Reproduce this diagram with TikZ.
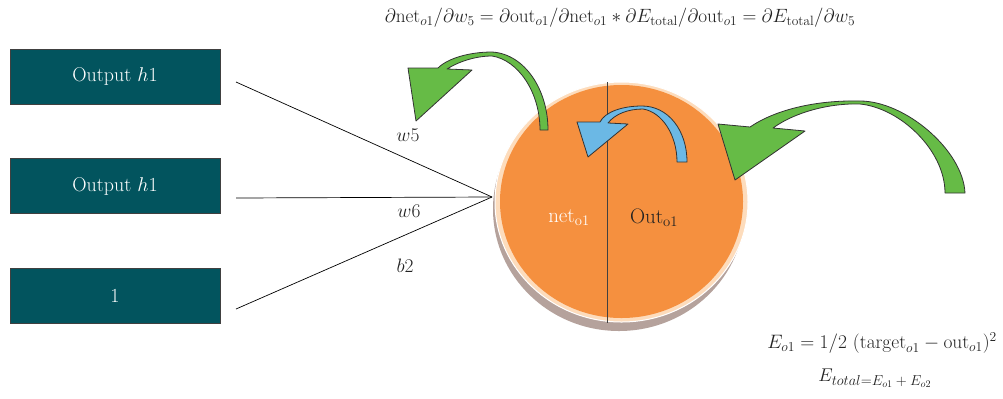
\RequirePackage{fix-cm}
\documentclass[tikz,border=0pt]{standalone}
\usepackage{amsmath}
\definecolor{boxteal}{HTML}{02545E}
\definecolor{orng}{HTML}{F5903F}
\definecolor{peach}{HTML}{FDDCBC}
\definecolor{shadowc}{HTML}{B5A29C}
\definecolor{grn}{HTML}{66BB46}
\definecolor{blu}{HTML}{6BB8E5}
\definecolor{darktxt}{HTML}{222222}
\begin{document}
\begin{tikzpicture}[x=1bp,y=-1bp,
  inbox/.style={draw=black!75, line width=0.8bp, fill=boxteal, minimum width=210bp, minimum height=55bp, inner sep=0pt, text=white, font=\fontsize{20}{23}\selectfont},
  wire/.style={line width=0.7bp, draw=black},
  lbl/.style={font=\fontsize{19.5}{22}\selectfont, text=darktxt, inner sep=0pt},
  fml/.style={font=\fontsize{19.3}{22}\selectfont, text=darktxt, inner sep=0pt},
  blockarrow/.style={line width=0.8bp, draw=black!80, line join=round}]
\useasboundingbox (0,0) rectangle (1003,398);

% input boxes
\node[inbox] (b1) at (115,76.5) {Output $h1$};
\node[inbox] (b2) at (115,186) {Output $h1$};
\node[inbox] (b3) at (115,296) {1};

% neuron
\fill[shadowc] (619,209) ellipse [x radius=126bp, y radius=122bp];
\filldraw[fill=peach, draw=white, line width=1bp] (621.5,202) ellipse [x radius=126.5bp, y radius=120bp];
\fill[orng] (621.5,201.5) ellipse [x radius=121.5bp, y radius=116.5bp];
\coordinate (vt) at (607,82);
\coordinate (vb) at (607,323);
\draw[line width=1bp, draw=black!75] (vt) -- (vb);

\node[lbl, text=white, font=\fontsize{21}{24}\selectfont] (net) at (569,218) {net$_{\text{o1}}$};
\node[lbl, font=\fontsize{21}{24}\selectfont] (out) at (654,218) {Out$_{\text{o1}}$};

% wires
\coordinate (conv) at (492,197);
\coordinate (s1) at (236,82);
\coordinate (s2) at (236,198);
\coordinate (s3) at (236,309);
\draw[wire] (s1) -- (conv);
\draw[wire] (s2) -- (conv);
\draw[wire] (s3) -- (conv);

\node[lbl] (w5) at (408,135) {$w5$};
\node[lbl] (w6) at (409,211) {$w6$};
\node[lbl] (b2l) at (405,266) {$b2$};

% green arrow (top left)
\filldraw[blockarrow, fill=grn]
  (548,130) .. controls (548,90) and (525,54) .. (492,52)
  .. controls (470,52) and (448,58) .. (438,68)
  -- (408,68) -- (416,121) -- (472,70) -- (447,69)
  .. controls (458,62) and (475,56) .. (492,56)
  .. controls (518,60) and (540,92) .. (540,130) -- cycle;

% blue arrow (inside)
\filldraw[blockarrow, fill=blu]
  (687,162) .. controls (687,130) and (668,106) .. (642,106)
  .. controls (622,106) and (605,112) .. (600,122)
  -- (577,122) -- (588,157) -- (628,124) -- (608,123)
  .. controls (615,114) and (628,109) .. (643,109)
  .. controls (662,112) and (677,135) .. (677,162) -- cycle;

% green arrow (right)
\filldraw[blockarrow, fill=grn]
  (965,193) .. controls (963,150) and (905,101) .. (860,101)
  .. controls (815,100) and (775,110) .. (750,127)
  -- (718,124) -- (735,180) -- (805,131) -- (773,128)
  .. controls (795,112) and (830,103) .. (860,104)
  .. controls (900,108) and (945,150) .. (945,193) -- cycle;

% formulas
\node[fml] (top) at (620,18)
  {$\partial\mathrm{net}_{o1}/\partial w_5 = \partial\mathrm{out}_{o1}/\partial\mathrm{net}_{o1} \ast \partial E_{\mathrm{total}}/\partial\mathrm{out}_{o1} = \partial E_{\mathrm{total}}/\partial w_5$};
\node[fml, anchor=east, font=\fontsize{19.5}{22}\selectfont] (eo1) at (997,343)
  {$E_{o1} = 1/2\ (\mathrm{target}_{o1} - \mathrm{out}_{o1})^2$};
\node[fml, font=\fontsize{18.5}{21}\selectfont] (etot) at (875,378)
  {$E_{\mbox{\fontsize{14.5}{16}\selectfont$total{=}E_{o1} + E_{o2}$}}$};
\end{tikzpicture}
\end{document}
